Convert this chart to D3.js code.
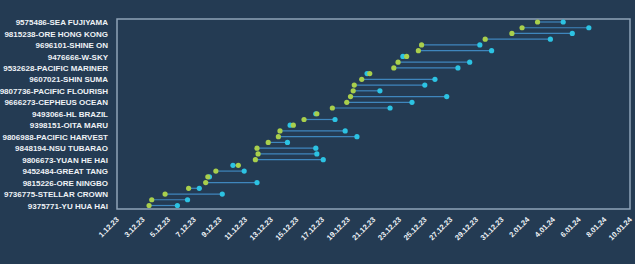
<!DOCTYPE html>
<html lang="en">
  <head>
    <meta charset="UTF-8" />
    <title>Vessel windows</title>
    <script src="https://d3js.org/d3.v7.min.js"></script>
    <style>
      body {
        margin: 0;
        background: #243b53;
        font-family: "Liberation Sans", Arial, sans-serif;
      }
      .label {
        fill: #eef2f6;
        font-size: 8px;
        font-weight: bold;
      }
    </style>
  </head>
  <body>
    <svg id="chart" width="635" height="264"></svg>

    <script>
      // one row per vessel, top to bottom; only every other name is shown on the axis
      const vessels = [
        "9575486-SEA FUJIYAMA", null,
        "9815238-ORE HONG KONG", null,
        "9696101-SHINE ON", null,
        "9476666-W-SKY", null,
        "9532628-PACIFIC MARINER", null,
        "9607021-SHIN SUMA", null,
        "9807736-PACIFIC FLOURISH", null,
        "9666273-CEPHEUS OCEAN", null,
        "9493066-HL BRAZIL", null,
        "9398151-OITA MARU", null,
        "9806988-PACIFIC HARVEST", null,
        "9848194-NSU TUBARAO", null,
        "9806673-YUAN HE HAI", null,
        "9452484-GREAT TANG", null,
        "9815226-ORE NINGBO", null,
        "9736775-STELLAR CROWN", null,
        "9375771-YU HUA HAI",
      ];

      const startDates = [
        "2024-01-02 19:00", "2024-01-01 14:00", "2023-12-31 19:00", "2023-12-29 17:00",
        "2023-12-24 18:00", "2023-12-24 12:00", "2023-12-23 14:00", "2023-12-22 22:00",
        "2023-12-22 14:00", "2023-12-20 17:00", "2023-12-20 02:00", "2023-12-19 12:00",
        "2023-12-19 10:00", "2023-12-19 05:00", "2023-12-18 22:00", "2023-12-17 19:00",
        "2023-12-16 14:00", "2023-12-15 14:00", "2023-12-14 18:00", "2023-12-13 17:00",
        "2023-12-13 14:00", "2023-12-12 19:00", "2023-12-11 22:00", "2023-12-12 00:00",
        "2023-12-11 19:00", "2023-12-10 11:00", "2023-12-08 17:00", "2023-12-08 02:00",
        "2023-12-07 22:00", "2023-12-06 14:00", "2023-12-04 18:00", "2023-12-03 17:00",
        "2023-12-03 12:00",
      ];

      const endDates = [
        "2024-01-04 19:00", "2024-01-06 19:00", "2024-01-05 12:00", "2024-01-03 19:00",
        "2023-12-29 07:00", "2023-12-30 05:00", "2023-12-23 07:00", "2023-12-28 12:00",
        "2023-12-27 14:00", "2023-12-20 12:00", "2023-12-25 19:00", "2023-12-25 00:00",
        "2023-12-21 12:00", "2023-12-26 17:00", "2023-12-24 00:00", "2023-12-22 07:00",
        "2023-12-16 12:00", "2023-12-18 00:00", "2023-12-14 12:00", "2023-12-18 19:00",
        "2023-12-19 17:00", "2023-12-14 07:00", "2023-12-16 12:00", "2023-12-16 14:00",
        "2023-12-17 02:00", "2023-12-10 01:00", "2023-12-10 22:00", "2023-12-08 05:00",
        "2023-12-11 22:00", "2023-12-07 10:00", "2023-12-09 05:00", "2023-12-06 12:00",
        "2023-12-05 17:00",
      ];

      const xDomain = ["2023-12-01", "2024-01-10"];
      const tickEveryDays = 2;

      const parse = d3.timeParse("%Y-%m-%d %H:%M");
      const parseDay = d3.timeParse("%Y-%m-%d");

      const rows = vessels.map((name, i) => ({
        i,
        name,
        start: parse(startDates[i]),
        end: parse(endDates[i]),
      }));

      const plot = { left: 117, right: 630, top: 19, bottom: 209 };

      const svg = d3.select("#chart");

      const x = d3
        .scaleTime()
        .domain(xDomain.map(parseDay))
        .range([plot.left, plot.right]);

      const y = d3
        .scalePoint()
        .domain(d3.range(vessels.length))
        .range([plot.top + 3, plot.bottom - 3.5]);

      // frame
      svg
        .append("rect")
        .attr("x", plot.left)
        .attr("y", plot.top)
        .attr("width", plot.right - plot.left)
        .attr("height", plot.bottom - plot.top)
        .attr("fill", "none")
        .attr("stroke", "#8ea4b8")
        .attr("stroke-width", 1.5);

      // y axis labels (every other row)
      const yAxis = d3
        .axisLeft(y)
        .tickSize(0)
        .tickPadding(9)
        .tickFormat((i) => vessels[i] || "");
      const gy = svg
        .append("g")
        .attr("transform", `translate(${plot.left},0)`)
        .call(yAxis);
      gy.select(".domain").remove();
      gy.selectAll("text")
        .attr("class", "label")
        .attr("dy", "0.33em")
        .attr("font-family", null)
        .attr("font-size", null);

      // x axis, rotated labels
      const tickDates = d3.timeDay.range(
        x.domain()[0],
        d3.timeDay.offset(x.domain()[1], 1),
        1
      ).filter((d, i) => i % tickEveryDays === 0);
      const xAxis = d3
        .axisBottom(x)
        .tickValues(tickDates)
        .tickSize(0)
        .tickFormat(d3.timeFormat("%-d.%m.%y"));
      const gx = svg
        .append("g")
        .attr("transform", `translate(0,${plot.bottom})`)
        .call(xAxis);
      gx.select(".domain").remove();
      gx.selectAll("text")
        .attr("class", "label")
        .attr("font-family", null)
        .attr("font-size", null)
        .style("font-size", "7.5px")
        .attr("text-anchor", "end")
        .attr("dy", null)
        .attr("y", 0)
        .attr("transform", "translate(2,11) rotate(-45)");

      // connector lines
      svg
        .append("g")
        .selectAll("line")
        .data(rows)
        .join("line")
        .attr("x1", (d) => x(d.start))
        .attr("x2", (d) => x(d.end))
        .attr("y1", (d) => y(d.i))
        .attr("y2", (d) => y(d.i))
        .attr("stroke", "#3f86bd")
        .attr("stroke-width", 1.2);

      svg
        .append("g")
        .selectAll("circle")
        .data(rows)
        .join("circle")
        .attr("cx", (d) => x(d.end))
        .attr("cy", (d) => y(d.i))
        .attr("r", 2.6)
        .attr("fill", "#2cc3e3");

      svg
        .append("g")
        .selectAll("circle")
        .data(rows)
        .join("circle")
        .attr("cx", (d) => x(d.start))
        .attr("cy", (d) => y(d.i))
        .attr("r", 2.6)
        .attr("fill", "#a9cf4c");
    </script>
  </body>
</html>
